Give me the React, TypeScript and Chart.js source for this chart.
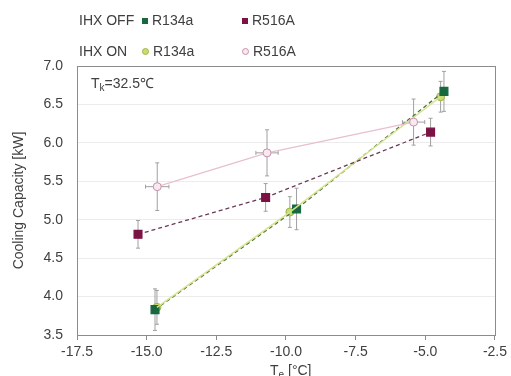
import React, { useEffect, useRef } from "react";
import { Chart, registerables } from "chart.js";

Chart.register(...registerables);

const r134aOffX = [-14.7, -9.62, -4.33];
const r134aOffY = [3.83, 5.14, 6.67];
const r134aOffErrY = [0.27, 0.27, 0.26];
const r134aOffErrX = [0, 0, 0];

const r134aOnX = [-14.63, -9.86, -4.45];
const r134aOnY = [3.86, 5.1, 6.6];
const r134aOnErrY = [0.22, 0.2, 0.2];
const r134aOnErrX = [0, 0, 0];

const r516aOffX = [-15.31, -10.73, -4.81];
const r516aOffY = [4.81, 5.29, 6.14];
const r516aOffErrY = [0.18, 0.18, 0.18];
const r516aOffErrX = [0.12, 0.12, 0.12];

const r516aOnX = [-14.62, -10.68, -5.42];
const r516aOnY = [5.43, 5.87, 6.27];
const r516aOnErrY = [0.31, 0.3, 0.3];
const r516aOnErrX = [0.42, 0.4, 0.4];

const xMin = -17.5, xMax = -2.5, xStep = 2.5;
const yMin = 3.5, yMax = 7.0, yStep = 0.5;

const FONT = "'Liberation Sans', Arial, sans-serif";
const TXT = "#404040";

function pts(xs: number[], ys: number[], ex: number[], ey: number[]) {
  return xs.map((x, i) => ({ x, y: ys[i], ex: ex[i], ey: ey[i] }));
}

const errorBars = {
  id: "errorBars",
  beforeDatasetsDraw(chart: any) {
    const ctx = chart.ctx;
    const xs = chart.scales.x, ys = chart.scales.y;
    ctx.save();
    ctx.strokeStyle = "#a0a0a0";
    ctx.lineWidth = 1;
    chart.data.datasets.forEach((ds: any) => {
      ds.data.forEach((p: any) => {
        const cx = xs.getPixelForValue(p.x);
        const cy = ys.getPixelForValue(p.y);
        if (p.ey) {
          const t = ys.getPixelForValue(p.y + p.ey);
          const b = ys.getPixelForValue(p.y - p.ey);
          ctx.beginPath();
          ctx.moveTo(cx, t); ctx.lineTo(cx, b);
          ctx.moveTo(cx - 2, t); ctx.lineTo(cx + 2, t);
          ctx.moveTo(cx - 2, b); ctx.lineTo(cx + 2, b);
          ctx.stroke();
        }
        if (p.ex) {
          const l = xs.getPixelForValue(p.x - p.ex);
          const r = xs.getPixelForValue(p.x + p.ex);
          ctx.beginPath();
          ctx.moveTo(l, cy); ctx.lineTo(r, cy);
          ctx.moveTo(l, cy - 2); ctx.lineTo(l, cy + 2);
          ctx.moveTo(r, cy - 2); ctx.lineTo(r, cy + 2);
          ctx.stroke();
        }
      });
    });
    ctx.restore();
  },
};

const frame = {
  id: "frame",
  afterDraw(chart: any) {
    const { left, right, top, bottom } = chart.chartArea;
    const ctx = chart.ctx;
    ctx.save();
    ctx.strokeStyle = "#8c8c8c";
    ctx.lineWidth = 1;
    ctx.strokeRect(Math.round(left) + 0.5, Math.round(top) + 0.5, Math.round(right - left), Math.round(bottom - top));
    ctx.restore();
  },
};

export default function App() {
  const ref = useRef<HTMLCanvasElement>(null);
  useEffect(() => {
    const chart = new Chart(ref.current!, {
      type: "scatter",
      data: {
        datasets: [
          {
            label: "R516A ON",
            data: pts(r516aOnX, r516aOnY, r516aOnErrX, r516aOnErrY),
            showLine: true,
            borderColor: "#e8bfd0",
            borderWidth: 1.2,
            pointBackgroundColor: "#f6e9ef",
            pointBorderColor: "#c890aa",
            pointBorderWidth: 1,
            pointRadius: 4,
            pointStyle: "circle",
          },
          {
            label: "R516A OFF",
            data: pts(r516aOffX, r516aOffY, r516aOffErrX, r516aOffErrY),
            showLine: true,
            borderColor: "#6a3a58",
            borderWidth: 1.3,
            borderDash: [4, 3],
            pointBackgroundColor: "#7c1244",
            pointBorderColor: "#7c1244",
            pointRadius: 5.5,
            pointStyle: "rect",
          },
          {
            label: "R134a ON",
            data: pts(r134aOnX, r134aOnY, r134aOnErrX, r134aOnErrY),
            showLine: true,
            borderColor: "#d6e38c",
            borderWidth: 1.5,
            pointRadius: 0,
          },
          {
            label: "R134a OFF",
            data: pts(r134aOffX, r134aOffY, r134aOffErrX, r134aOffErrY),
            showLine: true,
            borderColor: "#4d7040",
            borderWidth: 1.3,
            borderDash: [4, 3],
            pointBackgroundColor: "#17683f",
            pointBorderColor: "#17683f",
            pointRadius: 5.5,
            pointStyle: "rect",
          },
          {
            label: "R134a ON pts",
            data: pts(r134aOnX, r134aOnY, [0, 0, 0], [0, 0, 0]),
            showLine: false,
            pointBackgroundColor: "#c8dc72",
            pointBorderColor: "#9fb446",
            pointBorderWidth: 1,
            pointRadius: 4,
            pointStyle: "circle",
          },
        ],
      },
      options: {
        animation: false,
        responsive: false,
        maintainAspectRatio: false,
        layout: { padding: { top: 66, right: 13, left: 0, bottom: 0 } },
        plugins: { legend: { display: false }, tooltip: { enabled: false } },
        scales: {
          x: {
            type: "linear",
            min: xMin,
            max: xMax,
            afterFit: (s: any) => { s.height = 41; },
            afterBuildTicks: (s: any) => {
              const t = [];
              for (let v = xMin; v <= xMax + 1e-9; v += xStep) t.push({ value: v });
              s.ticks = t;
            },
            ticks: {
              color: TXT,
              font: { family: FONT, size: 14 },
              padding: 4,
              callback: (v: any) => Number(v).toFixed(1),
              maxRotation: 0,
            },
            grid: { drawOnChartArea: false, drawTicks: true, tickLength: 5, color: "#8c8c8c" },
            border: { color: "#8c8c8c" },
          },
          y: {
            type: "linear",
            min: yMin,
            max: yMax,
            afterFit: (s: any) => { s.width = 77; },
            afterBuildTicks: (s: any) => {
              const t = [];
              for (let v = yMin; v <= yMax + 1e-9; v += yStep) t.push({ value: v });
              s.ticks = t;
            },
            title: {
              display: true,
              text: "Cooling Capacity [kW]",
              color: TXT,
              font: { family: FONT, size: 14 },
              padding: { top: 11, bottom: 4 },
            },
            ticks: {
              color: TXT,
              font: { family: FONT, size: 14 },
              padding: 14,
              callback: (v: any) => Number(v).toFixed(1),
            },
            grid: { color: "#ececec", drawTicks: false, tickLength: 0 },
            border: { color: "#8c8c8c" },
          },
        },
      },
      plugins: [errorBars, frame],
    } as any);
    return () => chart.destroy();
  }, []);

  const txt: React.CSSProperties = {
    position: "absolute",
    fontFamily: FONT,
    fontSize: 14,
    color: TXT,
    whiteSpace: "nowrap",
    lineHeight: "16px",
  };
  const sq = (c: string): React.CSSProperties => ({
    display: "inline-block", width: 6, height: 6, background: c, marginRight: 4, verticalAlign: "1px",
  });
  const ci = (bg: string, bd: string): React.CSSProperties => ({
    display: "inline-block", width: 5, height: 5, background: bg, border: `1px solid ${bd}`, borderRadius: "50%", marginRight: 4, verticalAlign: "1px",
  });

  return (
    <div style={{ position: "fixed", left: 0, top: 0, width: 511, height: 376, background: "#fff", overflow: "hidden" }}>
      <canvas ref={ref} width={511} height={376} style={{ position: "absolute", left: 0, top: 0 }} />
      <div style={{ ...txt, left: 79, top: 12 }}>IHX OFF</div>
      <div style={{ ...txt, left: 142, top: 12 }}><span style={sq("#17683f")} />R134a</div>
      <div style={{ ...txt, left: 242, top: 12 }}><span style={sq("#7c1244")} />R516A</div>
      <div style={{ ...txt, left: 79, top: 43 }}>IHX ON</div>
      <div style={{ ...txt, left: 142, top: 43 }}><span style={ci("#c8dc72", "#9fb446")} />R134a</div>
      <div style={{ ...txt, left: 242, top: 43 }}><span style={ci("#f6e9ef", "#c890aa")} />R516A</div>
      <div style={{ ...txt, fontSize: 14, left: 91, top: 75 }}>T<sub style={{ fontSize: 10, verticalAlign: "-3px" }}>k</sub>=32.5℃</div>
      <div style={{ ...txt, fontSize: 14, left: 270, top: 362 }}>T<sub style={{ fontSize: 10, verticalAlign: "-3px" }}>e</sub> [°C]</div>
    </div>
  );
}
